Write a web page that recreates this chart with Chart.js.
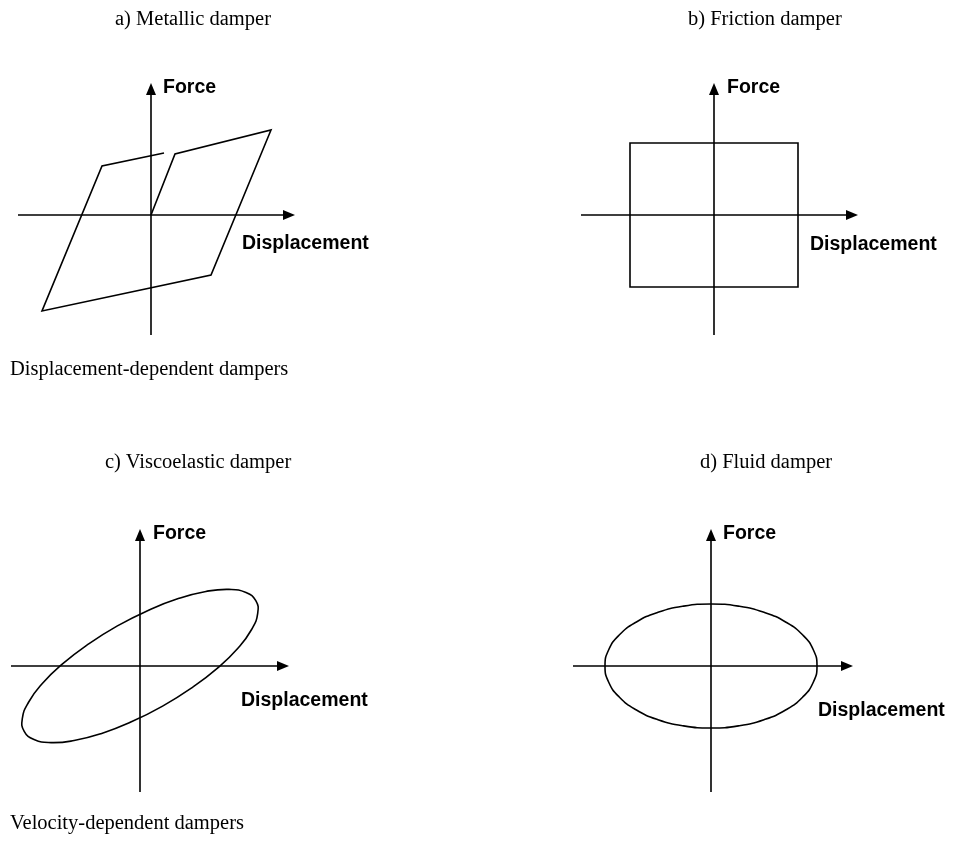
<!DOCTYPE html>
<html><head><meta charset="utf-8">
<script src="https://cdn.jsdelivr.net/npm/chart.js@4.4.1/dist/chart.umd.min.js"></script>
<style>
html,body{margin:0;padding:0;background:#fff;}
#page{position:relative;width:953px;height:842px;overflow:hidden;background:#fff;}
canvas{position:absolute;left:0;top:0;}
.t{position:absolute;white-space:nowrap;color:#000;line-height:1;}
.serif{font-family:"Liberation Serif","Times New Roman",serif;font-size:20.5px;}
.sans{font-family:"Liberation Sans",Arial,sans-serif;font-size:19.5px;font-weight:bold;}
</style></head><body><div id="page"></div>
<script>
// ---- text ----
const panelTitles = ['a) Metallic damper', 'b) Friction damper', 'c) Viscoelastic damper', 'd) Fluid damper'];
const groupLabels = ['Displacement-dependent dampers', 'Velocity-dependent dampers'];
const xAxisLabel = 'Displacement';
const yAxisLabel = 'Force';

// ---- data (displacement, force) in schematic units ----
const metallicDisp  = [0, 2.4, 12.0, 6.0, -10.9, -4.9, 1.3];
const metallicForce = [0, 6.1, 8.5, -6.0, -9.6, 4.9, 6.2];

const frictionDisp  = [-8.4, 8.4, 8.4, -8.4, -8.4];
const frictionForce = [7.2, 7.2, -7.2, -7.2, 7.2];

const viscoDisp  = [11.58, 10.60, 8.90, 6.59, 3.83, 0.81, -2.26, -5.18, -7.75, -9.79, -11.16, -11.77,
                    -11.58, -10.60, -8.90, -6.59, -3.83, -0.81, 2.26, 5.18, 7.75, 9.79, 11.16, 11.77];
const viscoForce = [6.53, 7.35, 7.66, 7.45, 6.74, 5.56, 4.01, 2.18, 0.21, -1.78, -3.65, -5.27,
                    -6.53, -7.35, -7.66, -7.45, -6.74, -5.56, -4.01, -2.18, -0.21, 1.78, 3.65, 5.27];

const fluidDisp  = [10.6, 10.24, 9.18, 7.50, 5.30, 2.74, 0, -2.74, -5.30, -7.50, -9.18, -10.24,
                    -10.6, -10.24, -9.18, -7.50, -5.30, -2.74, 0, 2.74, 5.30, 7.50, 9.18, 10.24];
const fluidForce = [0, 1.60, 3.10, 4.38, 5.37, 5.99, 6.2, 5.99, 5.37, 4.38, 3.10, 1.60,
                    0, -1.60, -3.10, -4.38, -5.37, -5.99, -6.2, -5.99, -5.37, -4.38, -3.10, -1.60];

// ---- layout (pixel boxes of the axes, axis ranges, label positions) ----
const panels = [
  { disp: metallicDisp, force: metallicForce, kind: 'open',
    box: [18, 83, 295, 335], xr: [-13.3, 14.4], yr: [-12.0, 13.2],
    title: [115, 25], forceLbl: [163, 94], dispLbl: [242, 250] },
  { disp: frictionDisp, force: frictionForce, kind: 'rect',
    box: [581, 83, 858, 335], xr: [-13.3, 14.4], yr: [-12.0, 13.2],
    title: [688, 25], forceLbl: [727, 94], dispLbl: [810, 251] },
  { disp: viscoDisp, force: viscoForce, kind: 'loop',
    box: [11, 529, 289, 792], xr: [-12.9, 14.9], yr: [-12.6, 13.7],
    title: [105, 468], forceLbl: [153, 540], dispLbl: [241, 707] },
  { disp: fluidDisp, force: fluidForce, kind: 'loop',
    box: [573, 529, 853, 792], xr: [-13.8, 14.2], yr: [-12.6, 13.7],
    title: [700, 468], forceLbl: [723, 540], dispLbl: [818, 717] }
];
const groupLabelPos = [[10, 375], [10, 829]];

const W = 953, H = 842;
const page = document.getElementById('page');

const arrowAxes = {
  id: 'arrowAxes',
  beforeDatasetsDraw(chart) {
    const { ctx, scales: { x, y } } = chart;
    const x0 = x.getPixelForValue(0), y0 = y.getPixelForValue(0);
    const xl = x.getPixelForValue(x.min), xr = x.getPixelForValue(x.max);
    const yb = y.getPixelForValue(y.min), yt = y.getPixelForValue(y.max);
    const L = 12, hw = 5;
    ctx.save();
    ctx.strokeStyle = '#000';
    ctx.fillStyle = '#000';
    ctx.lineWidth = 1.6;
    ctx.beginPath();
    ctx.moveTo(xl, y0); ctx.lineTo(xr - L + 1, y0);
    ctx.moveTo(x0, yb); ctx.lineTo(x0, yt + L - 1);
    ctx.stroke();
    ctx.beginPath();
    ctx.moveTo(xr, y0); ctx.lineTo(xr - L, y0 - hw); ctx.lineTo(xr - L, y0 + hw); ctx.closePath();
    ctx.fill();
    ctx.beginPath();
    ctx.moveTo(x0, yt); ctx.lineTo(x0 - hw, yt + L); ctx.lineTo(x0 + hw, yt + L); ctx.closePath();
    ctx.fill();
    ctx.restore();
  }
};

function makeChart(p) {
  const c = document.createElement('canvas');
  c.width = W; c.height = H;
  c.style.width = W + 'px'; c.style.height = H + 'px';
  page.appendChild(c);
  let pts = p.disp.map((v, i) => ({ x: v, y: p.force[i] }));
  const ds = {
    data: pts, showLine: true, borderColor: '#000', borderWidth: 1.6,
    pointRadius: 0, pointHoverRadius: 0, fill: false, tension: 0,
    borderJoinStyle: 'miter', borderCapStyle: 'butt'
  };
  if (p.kind === 'rect') ds.borderCapStyle = 'square';
  if (p.kind === 'loop') {
    const n = pts.length;
    ds.data = [pts[n - 1], ...pts, pts[0], pts[1]];
    ds.tension = 0.5;
    ds.borderCapStyle = 'round';
    ds.segment = {
      borderColor: ctx => (ctx.p0DataIndex === 0 || ctx.p0DataIndex === n + 1) ? 'rgba(0,0,0,0)' : '#000'
    };
  }
  new Chart(c, {
    type: 'scatter',
    data: { datasets: [ds] },
    options: {
      responsive: false, animation: false, events: [], devicePixelRatio: 1,
      layout: { padding: { left: p.box[0], top: p.box[1], right: W - p.box[2], bottom: H - p.box[3] } },
      scales: {
        x: { type: 'linear', display: false, min: p.xr[0], max: p.xr[1], bounds: 'data' },
        y: { type: 'linear', display: false, min: p.yr[0], max: p.yr[1], bounds: 'data' }
      },
      plugins: { legend: { display: false }, tooltip: { enabled: false }, title: { display: false } }
    },
    plugins: [arrowAxes]
  });
}

function addText(txt, cls, left, baseline) {
  const el = document.createElement('div');
  el.className = 't ' + cls;
  el.textContent = txt;
  const size = cls === 'serif' ? 20.5 : 19.5;
  const k = cls === 'serif' ? 0.8375 : 0.8465;
  el.style.left = left + 'px';
  el.style.top = (baseline - k * size) + 'px';
  page.appendChild(el);
}

panels.forEach(makeChart);
panels.forEach((p, i) => {
  addText(panelTitles[i], 'serif', p.title[0], p.title[1]);
  addText(yAxisLabel, 'sans', p.forceLbl[0], p.forceLbl[1]);
  addText(xAxisLabel, 'sans', p.dispLbl[0], p.dispLbl[1]);
});
groupLabels.forEach((g, i) => addText(g, 'serif', groupLabelPos[i][0], groupLabelPos[i][1]));
</script></body></html>
